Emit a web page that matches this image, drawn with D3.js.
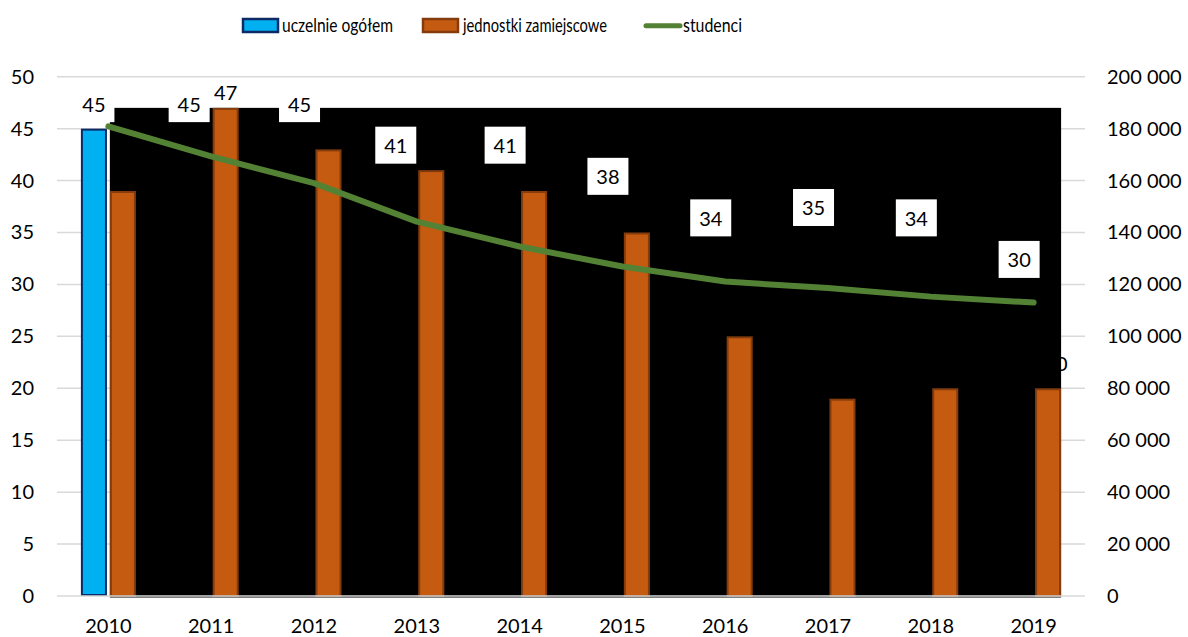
<!DOCTYPE html>
<html>
<head>
<meta charset="utf-8">
<script src="https://cdn.jsdelivr.net/npm/d3@7/dist/d3.min.js"></script>
<style>
  html, body { margin: 0; padding: 0; background: #ffffff; }
  svg { display: block; font-family: Lato, "Open Sans", sans-serif; }
</style>
</head>
<body>
<svg id="chart" width="1188" height="637"></svg>
<script>
// Years on the category axis
const years = ["2010", "2011", "2012", "2013", "2014", "2015", "2016", "2017", "2018", "2019"];
// Universities in total (left axis)
const uczelnieOgolem = [45, 45, 45, 41, 41, 38, 34, 35, 34, 30];
// Branch units (left axis)
const jednostkiZamiejscowe = [39, 47, 43, 41, 39, 35, 25, 19, 20, 20];
// Students (right axis)
const studenci = [180900, 169300, 159000, 144200, 134600, 126900, 121100, 118600, 115300, 113000];
// Axis ticks
const leftTicks = [0, 5, 10, 15, 20, 25, 30, 35, 40, 45, 50];
const rightTicks = [0, 20000, 40000, 60000, 80000, 100000, 120000, 140000, 160000, 180000, 200000];
const seriesNames = ["uczelnie ogółem", "jednostki zamiejscowe", "studenci"];

const svg = d3.select("#chart");
const plot = { left: 57, right: 1085, top: 76.7, bottom: 596 };

const x = d3.scaleBand().domain(years).range([plot.left, plot.right]).padding(0);
const yL = d3.scaleLinear().domain([0, 50]).range([plot.bottom, plot.top]);
const yR = d3.scaleLinear().domain([0, 200000]).range([plot.bottom, plot.top]);
const groupW = 55;
const sub = d3.scaleBand().domain(["u", "j"]).range([0, groupW]).paddingInner(0.1);
const bx = (yr, key) => x(yr) + x.bandwidth() / 2 - groupW / 2 + sub(key);

const fmtPL = d3.formatLocale({ thousands: " ", grouping: [3], decimal: ",", currency: ["", ""] }).format(",d");

const colBlue = "#00b0f0", colBlueEdge = "#0d2a66";
const colOrange = "#c55a11", colOrangeEdge = "#843c0c";
const colGreen = "#548235";
const gridCol = "#d9d9d9";
const fs = 20;

// Horizontal gridlines
svg.append("g").selectAll("line").data(leftTicks.slice(1)).join("line")
  .attr("x1", plot.left).attr("x2", plot.right)
  .attr("y1", d => yL(d)).attr("y2", d => yL(d))
  .attr("stroke", gridCol).attr("stroke-width", 1.5);

// Left axis labels
svg.append("g").selectAll("text").data(leftTicks).join("text")
  .attr("x", 34).attr("y", d => yL(d)).attr("dy", "0.35em")
  .attr("text-anchor", "end").attr("font-size", fs).attr("fill", "#000")
  .text(d => d);

// Right axis labels
svg.append("g").selectAll("text").data(rightTicks).join("text")
  .attr("x", 1107).attr("y", d => yR(d)).attr("dy", "0.35em")
  .attr("text-anchor", "start").attr("font-size", fs).attr("fill", "#000")
  .text(d => fmtPL(d));

// Category labels
svg.append("g").selectAll("text").data(years).join("text")
  .attr("x", d => x(d) + x.bandwidth() / 2).attr("y", 626).attr("dy", "0.35em")
  .attr("text-anchor", "middle").attr("font-size", fs).attr("fill", "#000")
  .text(d => d);

// "uczelnie ogółem" bars
svg.append("g").selectAll("rect").data(years).join("rect")
  .attr("x", d => bx(d, "u") + 1).attr("width", sub.bandwidth() - 2)
  .attr("y", (d, i) => yL(uczelnieOgolem[i]) + 1)
  .attr("height", (d, i) => yL(0) - yL(uczelnieOgolem[i]) - 2)
  .attr("fill", colBlue).attr("stroke", colBlueEdge).attr("stroke-width", 2);

// Dark backdrop spanning the branch-unit bars
const backX0 = bx(years[0], "j");
const backX1 = bx(years[years.length - 1], "j") + sub.bandwidth();
const backTop = yL(d3.max(jednostkiZamiejscowe));
svg.append("rect")
  .attr("x", backX0).attr("width", backX1 - backX0)
  .attr("y", backTop).attr("height", yL(0) - backTop + 1.5)
  .attr("fill", "#000");

// "jednostki zamiejscowe" bars
svg.append("g").selectAll("rect").data(years).join("rect")
  .attr("x", d => bx(d, "j") + 1).attr("width", sub.bandwidth() - 2)
  .attr("y", (d, i) => yL(jednostkiZamiejscowe[i]) + 1)
  .attr("height", (d, i) => yL(0) - yL(jednostkiZamiejscowe[i]) - 1)
  .attr("fill", colOrange).attr("stroke", colOrangeEdge).attr("stroke-width", 2);

// Category axis line
svg.append("line")
  .attr("x1", plot.left).attr("x2", plot.right)
  .attr("y1", yL(0)).attr("y2", yL(0))
  .attr("stroke", gridCol).attr("stroke-width", 1.5);

// "studenci" line
const line = d3.line()
  .x((d, i) => x(years[i]) + x.bandwidth() / 2)
  .y(d => yR(d));
svg.append("path").datum(studenci)
  .attr("d", line).attr("fill", "none")
  .attr("stroke", colGreen).attr("stroke-width", 6)
  .attr("stroke-linejoin", "round").attr("stroke-linecap", "round");

// Value labels for "jednostki zamiejscowe"
const jLabW = 24, jLabH = 20;
const jLabPos = years.map((d, i) => {
  const last = i === years.length - 1;
  return {
    cx: bx(d, "j") + sub.bandwidth() / 2 + (last ? 8 : 0),
    cy: yL(jednostkiZamiejscowe[i]) - 15 - (last ? 9 : 0)
  };
});
svg.append("g").selectAll("text").data(years).join("text")
  .attr("x", (d, i) => jLabPos[i].cx)
  .attr("y", (d, i) => jLabPos[i].cy)
  .attr("dy", "0.35em").attr("text-anchor", "middle")
  .attr("font-size", fs).attr("fill", "#000")
  .text((d, i) => jednostkiZamiejscowe[i]);

// Value labels for "uczelnie ogółem" in white boxes, pushed left when they
// would run into the neighbouring bar or its label
const boxW = 41, boxH = 37, gap = 3;
const uLabPos = years.map((d, i) => {
  const cx = bx(d, "u") + sub.bandwidth() / 2;
  const bottom = yL(uczelnieOgolem[i]) - 6.5;
  let right = cx + boxW / 2;
  const barLeft = bx(d, "j");
  const barTop = yL(jednostkiZamiejscowe[i]);
  const lab = jLabPos[i];
  if (bottom > barTop) {
    right = Math.min(right, barLeft - gap);
  } else if (bottom > lab.cy - jLabH / 2 && bottom - boxH < lab.cy + jLabH / 2) {
    right = Math.min(right, lab.cx - jLabW / 2 - gap);
  }
  return { cx: right - boxW / 2, cy: bottom - boxH / 2 };
});
const uLab = svg.append("g").selectAll("g").data(years).join("g")
  .attr("transform", (d, i) => `translate(${uLabPos[i].cx},${uLabPos[i].cy})`);
uLab.append("rect")
  .attr("x", -boxW / 2).attr("y", -boxH / 2).attr("width", boxW).attr("height", boxH)
  .attr("fill", "#fff");
uLab.append("text")
  .attr("y", 1).attr("dy", "0.35em").attr("text-anchor", "middle")
  .attr("font-size", fs).attr("fill", "#000")
  .text((d, i) => uczelnieOgolem[i]);

// Legend
const legend = svg.append("g");
legend.append("rect").attr("x", 243).attr("y", 19).attr("width", 35).attr("height", 13)
  .attr("fill", colBlue).attr("stroke", colBlueEdge).attr("stroke-width", 2.5);
legend.append("text").attr("x", 282).attr("y", 25).attr("dy", "0.35em")
  .attr("font-size", fs).attr("fill", "#000")
  .attr("textLength", 111).attr("lengthAdjust", "spacingAndGlyphs")
  .text(seriesNames[0]);
legend.append("rect").attr("x", 423).attr("y", 19).attr("width", 35).attr("height", 13)
  .attr("fill", colOrange).attr("stroke", colOrangeEdge).attr("stroke-width", 2.5);
legend.append("text").attr("x", 463).attr("y", 25).attr("dy", "0.35em")
  .attr("font-size", fs).attr("fill", "#000")
  .attr("textLength", 144).attr("lengthAdjust", "spacingAndGlyphs")
  .text(seriesNames[1]);
legend.append("line").attr("x1", 646).attr("x2", 680).attr("y1", 25.7).attr("y2", 25.7)
  .attr("stroke", colGreen).attr("stroke-width", 5).attr("stroke-linecap", "round");
legend.append("text").attr("x", 683).attr("y", 25).attr("dy", "0.35em")
  .attr("font-size", fs).attr("fill", "#000")
  .attr("textLength", 59).attr("lengthAdjust", "spacingAndGlyphs")
  .text(seriesNames[2]);
</script>
</body>
</html>
